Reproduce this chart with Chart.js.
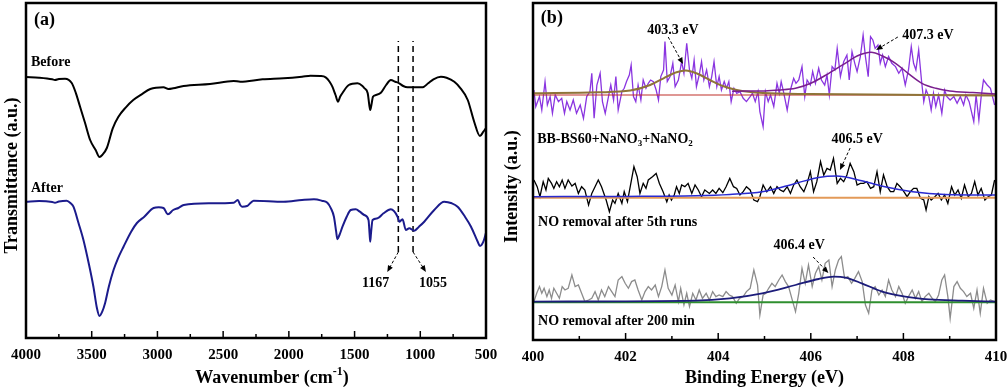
<!DOCTYPE html>
<html>
<head>
<meta charset="utf-8">
<script src="https://cdn.jsdelivr.net/npm/chart.js@4.4.0/dist/chart.umd.min.js"></script>
<style>
  html, body { margin: 0; padding: 0; background: #fff; }
  #wrap { position: relative; width: 1007px; height: 389px; }
  #boxA { position: absolute; left: 0; top: 0; width: 500px; height: 389px; }
  #boxB { position: absolute; left: 500px; top: 0; width: 507px; height: 389px; }
</style>
</head>
<body>
<div id="wrap">
  <div id="boxA"><canvas id="ftir"></canvas></div>
  <div id="boxB"><canvas id="xps"></canvas></div>
</div>
<script>
// ---------- (a) FTIR, [wavenumber cm-1, transmittance a.u.] ----------
const beforeFtir = [
  [4000,261],[3900,260.3],[3800,258.7],[3780,258],[3750,259],[3703,259.3],[3652,255],[3620,244.7],
  [3588,231],[3550,214.7],[3512,198],[3470,188],[3441,181],[3420,183],[3385,190],[3340,209.7],
  [3298,221],[3240,230.7],[3184,238],[3120,243.7],[3054,249],[2954,250.7],[2916,249],[2880,249.7],
  [2801,252],[2600,254],[2420,257],[2370,256.3],[2200,258.7],[2040,259.7],[1900,261.3],[1835,262.3],
  [1760,262],[1720,260.7],[1690,256.3],[1669,251.3],[1645,243],[1626,236.3],[1610,241.3],[1592,245],
  [1544,253],[1478,254.7],[1440,252],[1427,250],[1400,244.7],[1388,233],[1381,228],[1372,233],
  [1360,241.3],[1337,243],[1300,245.3],[1260,253],[1224,258],[1190,256.3],[1160,254.7],[1130,252],
  [1097,250.7],[1040,250.7],[982,250.7],[940,254.7],[900,258.7],[843,261.3],[800,260.3],[741,256.3],
  [700,250.7],[639,238],[590,216.3],[546,202],[520,206.3],[500,210]
];
const afterFtir = [
  [4000,136.3],[3900,137],[3800,136],[3780,135.3],[3750,136.5],[3690,137.3],[3660,134.7],[3639,131.3],
  [3600,114.7],[3563,98],[3520,73],[3487,51.3],[3460,29.7],[3441,22],[3420,26.3],[3398,35],
  [3370,51.3],[3334,68],[3300,79.7],[3258,91.3],[3200,106.3],[3156,115],[3100,121.3],[3029,130],
  [2990,130.7],[2954,130],[2920,123.7],[2880,128],[2840,130],[2800,133],[2600,134.7],[2420,135.3],
  [2389,138],[2370,133],[2356,131.3],[2318,132],[2290,135.3],[2268,137.3],[2040,136.3],[1900,138],
  [1809,138.7],[1750,137.3],[1707,135.3],[1680,129.7],[1657,121.3],[1640,106.3],[1631,98.7],[1615,103],
  [1592,111.3],[1560,121.3],[1529,128],[1491,128.7],[1460,126.3],[1427,123],[1394,118],[1386,104.7],
  [1381,96.3],[1375,104.7],[1363,118],[1325,119.7],[1280,124.7],[1224,128.7],[1173,121.3],[1160,116.3],
  [1135,118.7],[1110,108],[1084,109.7],[1046,107.3],[1010,111.3],[970,116.3],[894,128],[818,136.3],
  [760,134.7],[716,131.3],[660,121.3],[614,111.3],[563,96.3],[546,92],[520,96.3],[500,105.3]
];
const markWavenumbers = [1167, 1055];
const markSpan = [86, 297];
const ftirTicks = [4000, 3500, 3000, 2500, 2000, 1500, 1000, 500];

// ---------- (b) XPS N 1s, [binding energy eV, counts above own baseline] ----------
const topBase = 244.7, midBase = 140.3, botBase = 35.7;

const topScan = [
  [400.02,3.3],[400.06,-13.3],[400.14,-3.3],[400.19,-16.7],[400.26,11.7],[400.31,-11.7],[400.37,-3.3],[400.42,-20],
  [400.48,-1.7],[400.55,-8.3],[400.62,-5],[400.68,-20],[400.73,-8.3],[400.80,-16.7],[400.87,-6.7],[400.94,-20],
  [401.02,-11.7],[401.09,-25],[401.16,-3.3],[401.23,1.7],[401.27,20],[401.32,-25],[401.38,8.3],[401.45,20],
  [401.50,-8.3],[401.56,-20],[401.63,-3.3],[401.68,8.3],[401.74,-6.7],[401.79,16.7],[401.84,-16.7],[401.92,1.7],
  [401.97,5],[402.02,11.7],[402.08,18.3],[402.12,28.3],[402.17,-3.3],[402.22,-8.3],[402.27,8.3],[402.33,-6.7],
  [402.38,13.3],[402.44,5],[402.49,10],[402.54,13.3],[402.60,11.7],[402.66,3.3],[402.71,-6.7],[402.76,16.7],
  [402.82,23.3],[402.85,51.7],[402.90,11.7],[402.96,16.7],[403.02,30],[403.07,6.7],[403.14,13.3],[403.21,31.7],
  [403.26,20],[403.32,50],[403.38,23.3],[403.43,15],[403.48,33.3],[403.53,6.7],[403.59,18.3],[403.64,31.7],
  [403.69,13.3],[403.75,23.3],[403.81,6.7],[403.86,16.7],[403.91,31.7],[403.97,6.7],[404.02,16.7],[404.07,3.3],
  [404.13,11.7],[404.18,5],[404.23,11.7],[404.28,-8.3],[404.34,5],[404.40,0],[404.47,1.7],[404.54,-5],
  [404.61,-8.3],[404.69,-3.3],[404.74,0],[404.80,-8.3],[404.86,1.7],[404.90,-18.3],[404.97,-33.3],[405.02,1.7],
  [405.08,-8.3],[405.13,-1.7],[405.20,-13.3],[405.27,10],[405.32,0],[405.36,11.7],[405.41,1.7],[405.49,-16.7],
  [405.56,3.3],[405.63,15],[405.68,10],[405.74,13.3],[405.81,26.7],[405.87,-3.3],[405.92,13.3],[405.99,8.3],
  [406.04,21.7],[406.10,10],[406.17,25],[406.23,13.3],[406.30,8.3],[406.35,18.3],[406.40,-1.7],[406.46,26.7],
  [406.52,23.3],[406.57,45],[406.64,16.7],[406.71,31.7],[406.78,38.3],[406.83,13.3],[406.89,41.7],[406.95,30],
  [407.00,21.7],[407.07,36.7],[407.13,58.3],[407.18,36.7],[407.24,16.7],[407.29,56.7],[407.34,53.3],[407.39,45],
  [407.45,48.3],[407.50,30],[407.55,38.3],[407.61,26.7],[407.68,36.7],[407.75,30],[407.83,26.7],[407.90,20],
  [407.97,25],[408.04,8.3],[408.11,23.3],[408.17,46.7],[408.22,30],[408.27,23.3],[408.33,43.3],[408.39,13.3],
  [408.44,-8.3],[408.49,3.3],[408.55,-3.3],[408.60,-16.7],[408.65,0],[408.70,-13.3],[408.76,-1.7],[408.83,-20],
  [408.89,3.3],[408.94,-3.3],[409.01,-6.7],[409.09,-3.3],[409.16,-10],[409.23,-3.3],[409.30,-11.7],[409.35,-1.7],
  [409.42,-8.3],[409.52,-28.3],[409.57,-1.7],[409.63,-26.7],[409.68,-3.3],[409.73,13.3],[409.81,8.3],[409.88,5],
  [409.97,-11.7]
];
const topFit4073 = [
  [404.3,2],[404.6,2.3],[404.95,2.3],[405.3,3.3],[405.67,5],[406.0,10],[406.39,20],[406.8,31.7],[407.0,37.3],
  [407.3,41],[407.55,37.3],[407.83,30],[408.1,20],[408.4,10],[408.7,5],[409.0,2.3],[409.5,0.7],[410,-0.7]
];
const topFit4033 = [
  [400,0],[401.4,1],[402.1,2.7],[402.53,8.3],[402.82,15],[403.1,21],[403.3,22.7],[403.53,20],[403.82,13.3],
  [404.1,7.3],[404.4,3.3],[404.97,0.3],[406,-0.7],[408,-1.5],[410,-2.3]
];
const topBaseline = [[400,-1.7],[410,-1.7]];

const midScan = [
  [400.02,17.7],[400.09,11],[400.15,1],[400.22,16],[400.28,7.7],[400.33,19.3],[400.40,14.3],[400.45,9.3],
  [400.51,16],[400.57,11],[400.63,17.7],[400.69,9.3],[400.76,17.7],[400.84,11.7],[400.91,14.3],[400.98,4.3],
  [401.05,11],[401.12,7.7],[401.20,-7.3],[401.27,4.3],[401.34,11],[401.41,17.7],[401.48,11],[401.58,-2.3],
  [401.65,-14],[401.72,-2.3],[401.77,-5.7],[401.84,4.3],[401.92,-5.7],[401.97,6],[402.04,-4],[402.10,11],
  [402.18,31],[402.25,21],[402.31,4.3],[402.38,14.3],[402.44,9.3],[402.49,17.7],[402.58,21],[402.66,24.3],
  [402.73,14.3],[402.81,6],[402.89,-4],[402.94,2.7],[402.99,-2.3],[403.05,2.7],[403.10,11],[403.16,4.3],
  [403.21,12.7],[403.28,11],[403.35,14.3],[403.43,4.3],[403.50,12.7],[403.57,7.7],[403.64,1],[403.71,7.7],
  [403.81,4.3],[403.88,7.7],[403.95,4.3],[404.02,9.3],[404.10,5],[404.17,11],[404.25,19.3],[404.33,11],
  [404.40,9.3],[404.47,2.7],[404.54,6],[404.61,11],[404.69,7.7],[404.77,-2.3],[404.85,-4],[404.90,1],
  [404.97,12.7],[405.05,6],[405.13,11],[405.20,4.3],[405.27,11],[405.34,7.7],[405.41,6],[405.49,11],
  [405.56,4.3],[405.63,12.7],[405.70,17.7],[405.77,11],[405.85,6],[405.92,14.3],[405.99,26],[406.06,6],
  [406.13,16],[406.21,36],[406.28,22.7],[406.35,29.3],[406.42,27.7],[406.49,39.3],[406.57,14.3],[406.64,19.3],
  [406.71,16],[406.78,22.7],[406.85,34.3],[406.93,26],[407.00,12.7],[407.07,14.3],[407.14,14.3],[407.21,16],
  [407.29,9.3],[407.36,11],[407.43,26],[407.50,6],[407.57,22.7],[407.65,11],[407.72,6],[407.79,6],
  [407.86,14.3],[407.93,11],[408.01,6],[408.08,1],[408.15,6],[408.22,9.3],[408.29,9.3],[408.37,-0.7],
  [408.44,-2.3],[408.49,-12.3],[408.55,1],[408.60,-2.3],[408.68,1],[408.75,4.3],[408.82,-2.3],[408.89,2.7],
  [408.96,-5.7],[409.04,11],[409.11,2.7],[409.18,7.7],[409.25,-0.7],[409.32,12.7],[409.40,1],[409.47,4.3],
  [409.54,16],[409.61,2.7],[409.68,9.3],[409.76,-2.3],[409.83,1],[409.90,2.7],[409.97,17.7]
];
const midFit = [
  [400,1],[402,1.3],[403.5,2],[404.25,3.3],[404.95,6],[405.67,14.3],[406.17,20.3],[406.55,21.7],
  [407.1,17],[407.6,11],[408.2,6],[408.9,3.3],[410,2.7]
];
const midBaseline = [[400,0],[410,0]];

const botScan = [
  [400.02,0.7],[400.08,9],[400.14,15.7],[400.19,9],[400.24,14],[400.30,5.7],[400.35,12.3],[400.40,4],
  [400.45,14],[400.51,9],[400.57,4],[400.63,15.7],[400.69,12.3],[400.76,14],[400.84,27.3],[400.91,15.7],
  [400.98,17.3],[401.05,9],[401.12,0.7],[401.20,2.3],[401.27,4],[401.34,10.7],[401.41,2.3],[401.48,12.3],
  [401.55,5.7],[401.63,15.7],[401.70,10.7],[401.77,5.7],[401.84,22.3],[401.92,25.7],[401.99,19],[402.06,14],
  [402.13,20.7],[402.20,22.3],[402.27,12.3],[402.35,2.3],[402.42,10.7],[402.49,15.7],[402.56,12.3],[402.64,17.3],
  [402.71,5.7],[402.78,15.7],[402.85,32.3],[402.92,14],[403.00,7.3],[403.07,17.3],[403.14,0.7],[403.19,14],
  [403.26,-2.7],[403.32,9],[403.38,-4.3],[403.45,9],[403.52,2.3],[403.59,12.3],[403.66,4],[403.74,9],
  [403.81,2.3],[403.88,10.7],[403.95,5.7],[404.02,7.3],[404.10,5.7],[404.17,10.7],[404.24,7.3],[404.31,5.7],
  [404.39,-1],[404.46,4],[404.54,5.7],[404.61,10.7],[404.69,14],[404.77,32.3],[404.85,17.3],[404.90,-12.7],
  [404.97,7.3],[405.03,9],[405.09,14],[405.16,19],[405.23,15.7],[405.31,22.3],[405.38,27.3],[405.45,20.7],
  [405.52,15.7],[405.59,4],[405.67,-9.3],[405.74,9],[405.81,34],[405.88,19],[405.95,37.3],[406.03,15.7],
  [406.10,29],[406.17,35.7],[406.24,22.3],[406.31,39],[406.39,42.3],[406.46,15.7],[406.53,32.3],[406.60,42.3],
  [406.66,45.7],[406.73,24],[406.80,25.7],[406.88,19],[406.95,24],[407.03,30.7],[407.11,20.7],[407.18,-2.7],
  [407.25,-11],[407.32,12.3],[407.39,15.7],[407.47,7.3],[407.54,12.3],[407.61,5.7],[407.68,22.3],[407.75,12.3],
  [407.83,5.7],[407.90,15.7],[407.97,9],[408.04,-1],[408.11,5.7],[408.19,12.3],[408.26,4],[408.33,10.7],
  [408.40,0.7],[408.47,5.7],[408.55,9],[408.62,4],[408.69,0.7],[408.76,7.3],[408.83,22.3],[408.89,27.3],
  [408.96,5.7],[409.01,-16],[409.09,15.7],[409.16,20.7],[409.23,14],[409.30,10.7],[409.37,5.7],[409.45,9],
  [409.52,-6],[409.59,12.3],[409.66,-11],[409.73,14],[409.81,-1],[409.88,2.3],[409.97,0.7]
];
const botFit = [
  [400,0.7],[403.5,1.7],[404.25,4],[404.95,9],[405.67,17.3],[406.17,23.3],[406.5,25.7],[406.75,24.7],
  [407.1,19],[407.54,10.7],[408.04,5.7],[408.55,3],[409.27,1.7],[410,0.7]
];
const botBaseline = [[400,0],[410,0]];
const xpsTicks = [400, 402, 404, 406, 408, 410];

const SERIF = '"Liberation Serif", "Times New Roman", serif';
Chart.defaults.font.family = SERIF;
Chart.defaults.color = '#000';

const pts = (pairs, base) => pairs.map(([x, y]) => ({ x: x, y: y + (base || 0) }));

function drawRich(ctx, parts, x, y, align, size) {
  const fontOf = k => 'bold ' + (k === 'n' ? size : Math.round(size * 0.65)) + 'px ' + SERIF;
  let total = 0;
  parts.forEach(([t, k]) => { ctx.font = fontOf(k); total += ctx.measureText(t).width; });
  let cx = align === 'center' ? x - total / 2 : x;
  ctx.fillStyle = '#000';
  ctx.textBaseline = 'middle';
  ctx.textAlign = 'left';
  parts.forEach(([t, k]) => {
    ctx.font = fontOf(k);
    const dy = k === 'sub' ? size * 0.3 : (k === 'sup' ? -size * 0.35 : 0);
    ctx.fillText(t, cx, y + dy);
    cx += ctx.measureText(t).width;
  });
}

function drawArrow(ctx, x1, y1, x2, y2) {
  const ang = Math.atan2(y2 - y1, x2 - x1), head = 7;
  ctx.save();
  ctx.strokeStyle = '#000';
  ctx.fillStyle = '#000';
  ctx.lineWidth = 1;
  ctx.setLineDash([3, 2]);
  ctx.beginPath();
  ctx.moveTo(x1, y1);
  ctx.lineTo(x2 - head * 0.8 * Math.cos(ang), y2 - head * 0.8 * Math.sin(ang));
  ctx.stroke();
  ctx.setLineDash([]);
  ctx.beginPath();
  ctx.moveTo(x2, y2);
  ctx.lineTo(x2 - head * Math.cos(ang - 0.4), y2 - head * Math.sin(ang - 0.4));
  ctx.lineTo(x2 - head * Math.cos(ang + 0.4), y2 - head * Math.sin(ang + 0.4));
  ctx.closePath();
  ctx.fill();
  ctx.restore();
}

// frame, inward ticks, titles and labels
const decor = {
  id: 'decor',
  afterDatasetsDraw(chart, args, opts) {
    const ctx = chart.ctx, area = chart.chartArea;
    const xs = chart.scales.x, ys = chart.scales.y;
    ctx.save();
    ctx.strokeStyle = '#000';
    ctx.lineWidth = 1.5;
    const lo = Math.min(xs.min, xs.max), hi = Math.max(xs.min, xs.max);
    for (let v = lo; v <= hi + 1e-9; v += opts.minorStep) {
      const px = xs.getPixelForValue(v);
      const q = v / opts.majorStep;
      const len = Math.abs(q - Math.round(q)) < 1e-6 ? 7 : 4;
      ctx.beginPath();
      ctx.moveTo(px, area.bottom);
      ctx.lineTo(px, area.bottom - len);
      ctx.stroke();
    }
    ctx.lineWidth = 2.5;
    ctx.strokeRect(area.left, area.top, area.width, area.height);

    opts.arrows.forEach(a => drawArrow(ctx,
      xs.getPixelForValue(a.from[0]), ys.getPixelForValue(a.from[1]),
      xs.getPixelForValue(a.to[0]), ys.getPixelForValue(a.to[1])));
    opts.labels.forEach(l => drawRich(ctx, l.parts,
      xs.getPixelForValue(l.at[0]), ys.getPixelForValue(l.at[1]), l.align, l.size));

    // axis titles
    drawRich(ctx, opts.xTitle, (area.left + area.right) / 2 + opts.xTitleShift, chart.height - 11, 'center', 18);
    ctx.translate(12, (area.top + area.bottom) / 2 + opts.yTitleShift);
    ctx.rotate(-Math.PI / 2);
    drawRich(ctx, [[opts.yTitle, 'n']], 0, 0, 'center', 18);
    ctx.restore();
  }
};

function xAxis(min, max, reverse, ticks, h) {
  return {
    type: 'linear', min: min, max: max, reverse: reverse,
    afterBuildTicks: s => { s.ticks = ticks.map(v => ({ value: v })); },
    afterFit: s => { s.height = h; s.paddingLeft = 0; s.paddingRight = 0; },
    grid: { display: false, drawTicks: false },
    border: { display: false },
    ticks: {
      autoSkip: false, maxRotation: 0, padding: 8, color: '#000',
      font: { size: 15, weight: 'bold' },
      callback: v => String(v)
    }
  };
}

const line = (data, color, width, extra) => Object.assign({
  data: data, borderColor: color, borderWidth: width, pointRadius: 0, fill: false,
  tension: 0, cubicInterpolationMode: 'monotone'
}, extra || {});

new Chart(document.getElementById('ftir'), {
  type: 'line',
  data: {
    datasets: [
      line(pts(beforeFtir), '#000000', 2),
      line(pts(afterFtir), '#1b1b8c', 2),
      ...markWavenumbers.map(w => line([{ x: w, y: markSpan[0] }, { x: w, y: markSpan[1] }], '#000', 1.5,
        { borderDash: [6, 4], cubicInterpolationMode: 'default' }))
    ]
  },
  options: {
    animation: false, responsive: true, maintainAspectRatio: false,
    layout: { padding: { left: 26, top: 3, right: 14, bottom: 0 } },
    scales: {
      x: xAxis(500, 4000, true, ftirTicks, 51),
      y: { display: false, min: 0, max: 335 }
    },
    plugins: {
      legend: { display: false }, tooltip: { enabled: false },
      decor: {
        minorStep: 250, majorStep: 500,
        xTitle: [['Wavenumber (cm', 'n'], ['-1', 'sup'], [')', 'n']], xTitleShift: 16,
        yTitle: 'Transmittance (a.u.)', yTitleShift: 5,
        arrows: [
          { from: [1167, 86], to: [1251, 66] },
          { from: [1055, 86], to: [957, 66] }
        ],
        labels: [
          { parts: [['(a)', 'n']], at: [3939, 318], align: 'left', size: 18 },
          { parts: [['Before', 'n']], at: [3962, 276], align: 'left', size: 14 },
          { parts: [['After', 'n']], at: [3962, 150], align: 'left', size: 14 },
          { parts: [['1167', 'n']], at: [1339, 55], align: 'center', size: 14 },
          { parts: [['1055', 'n']], at: [904, 55], align: 'center', size: 14 }
        ]
      }
    }
  },
  plugins: [decor]
});

new Chart(document.getElementById('xps'), {
  type: 'line',
  data: {
    datasets: [
      line(pts(topFit4073, topBase), '#7a1f8e', 1.5, { order: 1 }),
      line(pts(topFit4033, topBase), '#8f7438', 2, { order: 1 }),
      line(pts(topBaseline, topBase), '#c0302a', 1.2, { order: 2 }),
      line(pts(topScan, topBase), '#8a35e0', 1.3, { order: 3, cubicInterpolationMode: 'default' }),
      line(pts(midFit, midBase), '#2a2ad0', 1.5, { order: 1 }),
      line(pts(midBaseline, midBase), '#e39a58', 2, { order: 2 }),
      line(pts(midScan, midBase), '#000000', 1.3, { order: 3, cubicInterpolationMode: 'default' }),
      line(pts(botFit, botBase), '#1c1c7a', 1.8, { order: 1 }),
      line(pts(botBaseline, botBase), '#2f8f2f', 2, { order: 2 }),
      line(pts(botScan, botBase), '#8c8c8c', 1.3, { order: 3, cubicInterpolationMode: 'default' })
    ]
  },
  options: {
    animation: false, responsive: true, maintainAspectRatio: false,
    layout: { padding: { left: 33, top: 3, right: 11, bottom: 0 } },
    scales: {
      x: xAxis(400, 410, false, xpsTicks, 49),
      y: { display: false, min: -2, max: 335 }
    },
    plugins: {
      legend: { display: false }, tooltip: { enabled: false },
      decor: {
        minorStep: 1, majorStep: 2,
        xTitle: [['Binding Energy (eV)', 'n']], xTitleShift: 0,
        yTitle: 'Intensity (a.u.)', yTitleShift: 15,
        arrows: [
          { from: [402.92, 301], to: [403.24, 274] },
          { from: [407.88, 301], to: [407.41, 288] },
          { from: [406.85, 190], to: [406.63, 168] },
          { from: [406.05, 81], to: [406.38, 65] }
        ],
        labels: [
          { parts: [['(b)', 'n']], at: [400.17, 320], align: 'left', size: 18 },
          { parts: [['403.3 eV', 'n']], at: [403.02, 308], align: 'center', size: 14 },
          { parts: [['407.3 eV', 'n']], at: [408.53, 303], align: 'center', size: 14 },
          { parts: [['406.5 eV', 'n']], at: [407.0, 199], align: 'center', size: 14 },
          { parts: [['406.4 eV', 'n']], at: [405.75, 93], align: 'center', size: 14 },
          { parts: [['BB-BS60+NaNO', 'n'], ['3', 'sub'], ['+NaNO', 'n'], ['2', 'sub']], at: [400.09, 199], align: 'left', size: 14 },
          { parts: [['NO removal after 5th runs', 'n']], at: [400.11, 116], align: 'left', size: 14 },
          { parts: [['NO removal after 200 min', 'n']], at: [400.11, 17], align: 'left', size: 14 }
        ]
      }
    }
  },
  plugins: [decor]
});
</script>
</body>
</html>
